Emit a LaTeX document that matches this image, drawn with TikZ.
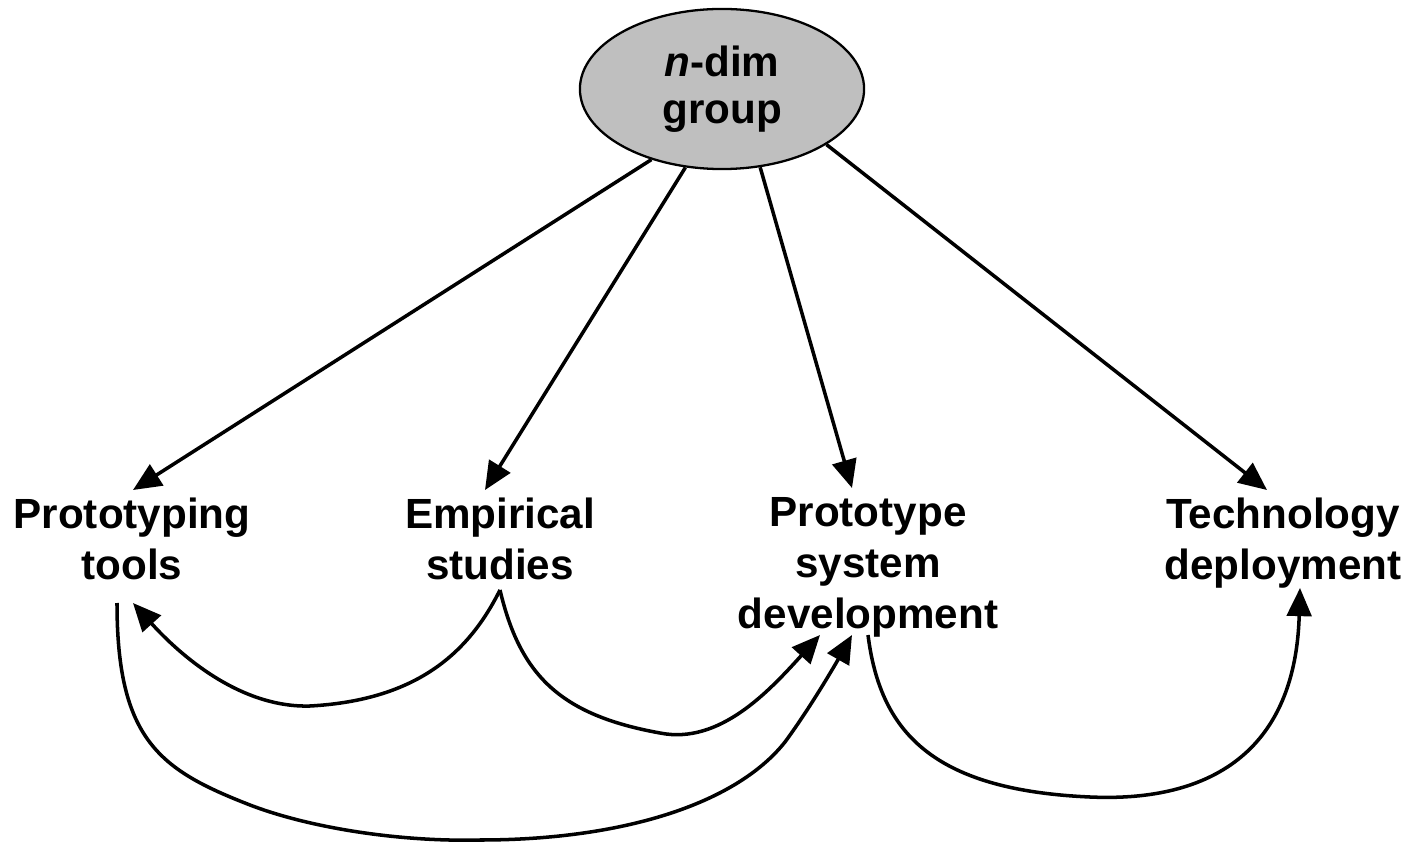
\documentclass[tikz,border=0pt]{standalone}
\usepackage{fontspec}
\setmainfont{Liberation Sans}
\usetikzlibrary{arrows.meta}
\usetikzlibrary{shapes}
\usetikzlibrary{calc}
\tikzset{
  >={Triangle[length=8pt,width=7pt]}, % filled triangle heads
  topic/.style={align=center,inner sep=0,anchor=north,
    font=\bfseries\fontsize{12pt}{14.5pt}\selectfont},
  group/.style={ellipse,draw,line width=0.65pt,fill=black!25,
    minimum width=2.84cm,minimum height=1.6cm,inner sep=0,align=center,
    font=\bfseries\fontsize{12pt}{13.2pt}\selectfont},
  connect arrow/.style={->,line width=1pt}
}

\begin{document}
\begin{tikzpicture}[x=0.01cm,y=-0.01cm]
      \useasboundingbox (0,0) rectangle (1412,843);
      % nodes
      \node[group] (ndim)    at (722,89)  {\textit{n}-dim\\group};
      \node[topic] (proto)   at (132,497) {Prototyping\\tools};
      \node[topic] (empir)   at (500,497) {Empirical\\studies};
      \node[topic] (sysdev)  at (868,497) {Prototype\\system\\development};
      \node[topic] (techdep) at (1283,497) {Technology\\deployment};
      % from the group
      \draw[connect arrow] (ndim.225) -- ($(proto.north)+(1,-7)$);
      \draw[connect arrow] (ndim.245) -- ($(empir.north)+(-15,-7)$);
      \draw[connect arrow] (ndim.296) -- ($(sysdev.north)+(-16,-9)$);
      \draw[connect arrow] (ndim.332) -- ($(techdep.north)+(-16,-7)$);
      % feedback curves
      \draw[connect arrow] ($(empir.north)+(0,93)$)
        .. controls (470,650) and (420,700) .. (310,706)
        .. controls (240,708) and (180,655) .. ($(proto.north)+(1,106)$);
      \draw[connect arrow] ($(empir.north)+(0,93)$)
        .. controls (520,675) and (560,715) .. (660,733)
        .. controls (720,745) and (770,690) .. ($(sysdev.north)+(-48,138)$);
      \draw[connect arrow] ($(proto.north)+(-15,106)$)
        .. controls (117,740) and (160,770) .. (250,805)
        .. controls (310,828) and (400,842) .. (480,840)
        .. controls (620,840) and (735,805) .. (785,742)
        .. controls (810,708) and (835,665) .. ($(sysdev.north)+(-16,138)$);
      \draw[connect arrow] ($(sysdev.north)+(0,138)$)
        .. controls (880,730) and (930,790) .. (1090,797)
        .. controls (1200,802) and (1295,760) .. ($(techdep.north)+(17,91)$);
    \end{tikzpicture}
\end{document}
